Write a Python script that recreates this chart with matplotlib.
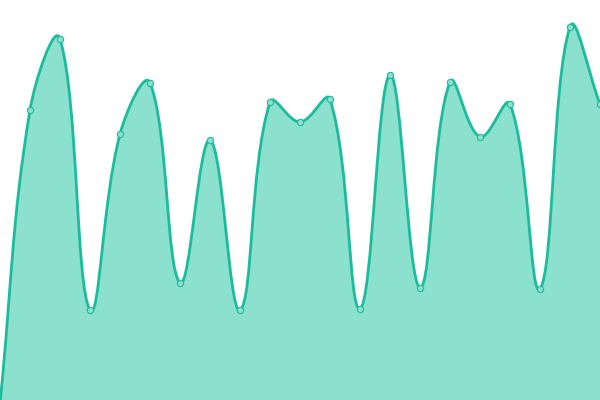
import numpy as np
import matplotlib
matplotlib.use('Agg')
import matplotlib.pyplot as plt
from matplotlib.path import Path
from matplotlib.patches import PathPatch

# adatok
labels = list(range(21))
values = [-0.8, 72.5, 90.3, 22.5, 66.5, 79.3, 29.3, 65.0, 22.5, 74.5, 69.5,
          75.2, 22.8, 81.3, 28.1, 79.5, 65.8, 74.0, 27.8, 93.3, 74.0]

line_color = '#1abc9c'
fill_color = '#8be0ce'
tension = 0.4

fig = plt.figure(figsize=(6, 4), dpi=100)
ax = fig.add_axes([0, 0, 1, 1])
ax.set_xlim(0, 20)
ax.set_ylim(0, 100)
ax.axis('off')

# pontok pixelben, a gorbe kontrollpontjaihoz (Chart.js-szeru spline)
pts = ax.transData.transform(np.column_stack([labels, values]))
n = len(pts)
cp_prev = np.zeros_like(pts)
cp_next = np.zeros_like(pts)
for i in range(n):
    p0 = pts[max(i - 1, 0)]
    p1 = pts[i]
    p2 = pts[min(i + 1, n - 1)]
    d01 = np.hypot(*(p1 - p0))
    d12 = np.hypot(*(p2 - p1))
    tot = d01 + d12
    s01 = d01 / tot if tot else 0
    s12 = d12 / tot if tot else 0
    cp_prev[i] = p1 - tension * s01 * (p2 - p0)
    cp_next[i] = p1 + tension * s12 * (p2 - p0)

verts = [pts[0]]
codes = [Path.MOVETO]
for i in range(n - 1):
    verts += [cp_next[i], cp_prev[i + 1], pts[i + 1]]
    codes += [Path.CURVE4] * 3
inv = ax.transData.inverted()
verts_d = inv.transform(np.array(verts))

line_path = Path(verts_d, codes)
bottom = ax.get_ylim()[0]
fill_verts = np.vstack([verts_d, [[labels[-1], bottom], [labels[0], bottom], verts_d[0]]])
fill_codes = codes + [Path.LINETO, Path.LINETO, Path.CLOSEPOLY]
ax.add_patch(PathPatch(Path(fill_verts, fill_codes), facecolor=fill_color,
                       edgecolor='none', zorder=1))
ax.add_patch(PathPatch(line_path, facecolor='none', edgecolor=line_color,
                       linewidth=2.0, zorder=2, capstyle='round', joinstyle='round'))

ax.plot(labels, values, 'o', markersize=4.5, markerfacecolor=fill_color,
        markeredgecolor=line_color, markeredgewidth=0.8, zorder=3)

plt.savefig('out.png', dpi=100)
